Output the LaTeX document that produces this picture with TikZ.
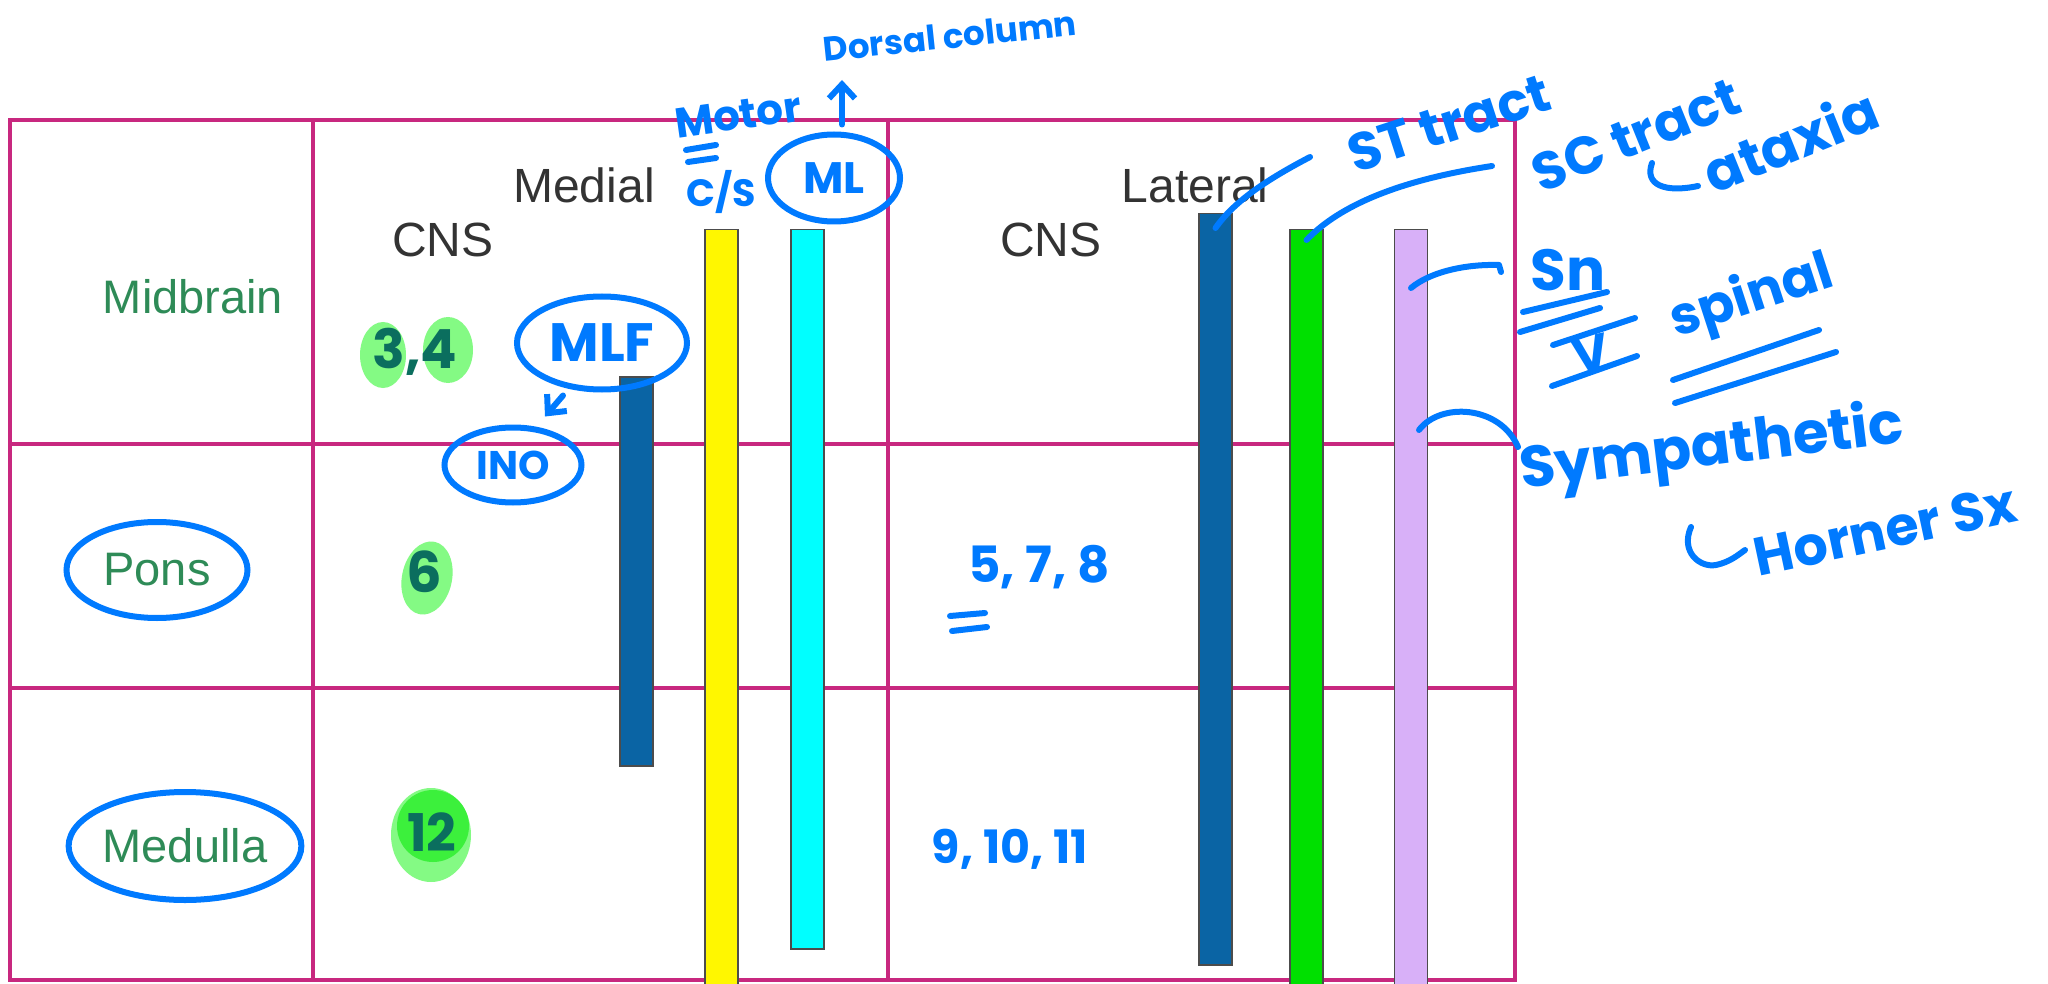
\documentclass[tikz,border=0pt]{standalone}
\usepackage{fontspec}
\setmainfont{Liberation Sans}
\newfontfamily\handfont{Poppins}
\usetikzlibrary{shapes.geometric,arrows.meta}
\definecolor{gridpink}{HTML}{C8287F}
\definecolor{labgreen}{HTML}{2E8B57}
\definecolor{headgray}{HTML}{333333}
\definecolor{ink}{HTML}{007AFF}
\definecolor{hilite}{HTML}{84FA84}
\definecolor{hilitedeep}{HTML}{3CF03C}
\definecolor{numteal}{HTML}{0B6E5E}
\definecolor{tractblue}{HTML}{0A64A4}
\definecolor{csyellow}{HTML}{FFF700}
\definecolor{mlcyan}{HTML}{00FFFF}
\definecolor{scgreen}{HTML}{00E000}
\definecolor{snlav}{HTML}{D8B0F8}
\begin{document}
\begin{tikzpicture}[x=1pt,y=-1pt,
  grid/.style={draw=gridpink, line width=4pt},
  region/.style={text=labgreen, font=\fontsize{47}{56}\selectfont},
  head/.style={text=headgray, font=\fontsize{48}{58}\selectfont},
  bar/.style={draw=black!70, line width=1.5pt, minimum width=33pt, inner sep=0pt, anchor=north},
  hand/.style={text=ink, font=\handfont\bfseries\fontsize{#1}{#1}\selectfont, inner sep=1pt},
  inkline/.style={draw=ink, line width=6pt, line cap=round, line join=round},
  ring/.style={ellipse, draw=ink, line width=6pt, inner sep=0pt},
  inktip/.style={-{Straight Barb[length=14pt,width=26pt,line width=6pt]}}
]
\fill[white] (0,0) rectangle (2048,984);
\useasboundingbox (0,0) rectangle (2048,984);

% table frame
\draw[grid] (10,120) rectangle (1515,980);
\draw[grid] (313,120) -- (313,980) (888,120) -- (888,980);
\draw[grid] (10,444) -- (1515,444) (10,688) -- (1515,688);

% row and column headings
\node[region] (midbrain) at (193,297) {Midbrain};
\node[region, ring, minimum width=181pt, minimum height=96pt] (pons) at (157,570) {Pons};
\node[region, ring, minimum width=228pt, minimum height=108pt] (medulla) at (185,846) {Medulla};
\node[head] (cnsm) at (443,240) {CNS};
\node[head] (medial) at (584,185) {Medial};
\node[head] (lateral) at (1195,185) {Lateral};
\node[head] (cnsl) at (1051,240) {CNS};

% tract bars
\node[bar, fill=tractblue, minimum height=389pt] (mlfbar) at (636.5,376) {};
\node[bar, fill=csyellow, minimum height=770pt] (csbar) at (721.5,229) {};
\node[bar, fill=mlcyan, minimum height=719pt] (mlbar) at (807.5,229) {};
\node[bar, fill=tractblue, minimum height=751pt] (stbar) at (1215.5,213) {};
\node[bar, fill=scgreen, minimum height=770pt] (scbar) at (1306.5,229) {};
\node[bar, fill=snlav, minimum height=770pt] (snbar) at (1411,229) {};

% cranial nerve nuclei, medial
\fill[hilite] (383,355) ellipse [x radius=23, y radius=33];
\fill[hilite] (448,350) ellipse [x radius=25, y radius=33];
\node[hand=54, text=numteal] (n34) at (415,352) {3,4};
\fill[hilite, rotate around={-12:(427,578)}] (427,578) ellipse [x radius=25, y radius=37];
\node[hand=56, text=numteal] (n6) at (424,572) {6};
\fill[hilite] (431,835) ellipse [x radius=40, y radius=47];
\fill[hilitedeep] (433,826) ellipse [x radius=36, y radius=36];
\node[hand=52, text=numteal] (n12) at (432,832) {12};

% cranial nerve nuclei, lateral
\node[hand=50] (n578) at (1039,567) {5, 7, 8};
\draw[inkline] (950,616) -- (985,613) (952,631) -- (987,627);
\node[hand=46] (n91011) at (1010,849) {9, 10, 11};

% medial annotations
\node[hand=34, rotate=6] (dorsal) at (950,36) {Dorsal column};
\node[hand=42, rotate=8] (motor) at (738,115) {Motor};
\draw[inkline] (686,150) -- (716,145) (688,162) -- (716,158);
\node[hand=38] (cs) at (721,192) {C/S};
\node[hand=44, ring, minimum width=132pt, minimum height=87pt] (ml) at (834,178) {ML};
\coordinate (dctip) at (842,80);
\draw[inkline, inktip] ([xshift=8pt,yshift=7pt]ml.north) -- (dctip);
\node[hand=54, ring, minimum width=170pt, minimum height=93pt] (mlf) at (602,343) {MLF};
\node[hand=40, ring, minimum width=137pt, minimum height=75pt] (ino) at (513,465) {INO};
\draw[inkline, inktip] ([xshift=-39pt,yshift=-3pt]mlf.south) -- ([xshift=32pt,yshift=8pt]ino.north);

% lateral annotations
\node[hand=53, rotate=18] (st) at (1449,123) {ST tract};
\coordinate (stend) at (1310,157);
\draw[inkline] ([yshift=-15pt]stbar.north) .. controls (1235,200) and (1270,178) .. (stend);
\node[hand=53, rotate=22] (sc) at (1636,135) {SC tract};
\coordinate (scend) at (1492,166);
\draw[inkline] ([yshift=-11pt]scbar.north) .. controls (1340,205) and (1400,180) .. (scend);
\draw[inkline] (1652,163) .. controls (1644,185) and (1665,193) .. (1698,186);
\node[hand=55, rotate=22] (ataxia) at (1790,140) {ataxia};

\coordinate (snend) at (1501,272);
\draw[inkline] ([yshift=-59pt]snbar.north) .. controls (1430,272) and (1465,264) .. (1499,265) -- (snend);
\node[hand=58] (sn) at (1568,270) {Sn};
\draw[inkline] (1523,312) -- (1607,292) (1520,332) -- (1600,308);
\node[hand=50, rotate=12, anchor=south, inner sep=0pt] (five) at (1594,371) {V};
\draw[inkline] (1553,345) -- (1635,318) (1552,386) -- (1637,356);
\node[hand=53, rotate=18] (spinal) at (1752,298) {spinal};
\draw[inkline] (1673,380) -- (1819,330) (1675,403) -- (1836,352);

\coordinate (symend) at (1518,447);
\draw[inkline] ([xshift=8pt,yshift=-201pt]snbar.north) .. controls (1440,402) and (1500,405) .. (symend);
\node[hand=58, rotate=7] (symp) at (1712,450) {Sympathetic};
\draw[inkline] (1691,527) .. controls (1680,552) and (1700,568) .. (1716,565) .. controls (1730,562) and (1738,555) .. (1745,550);
\node[hand=54, rotate=12] (horner) at (1885,530) {Horner Sx};
\end{tikzpicture}
\end{document}
